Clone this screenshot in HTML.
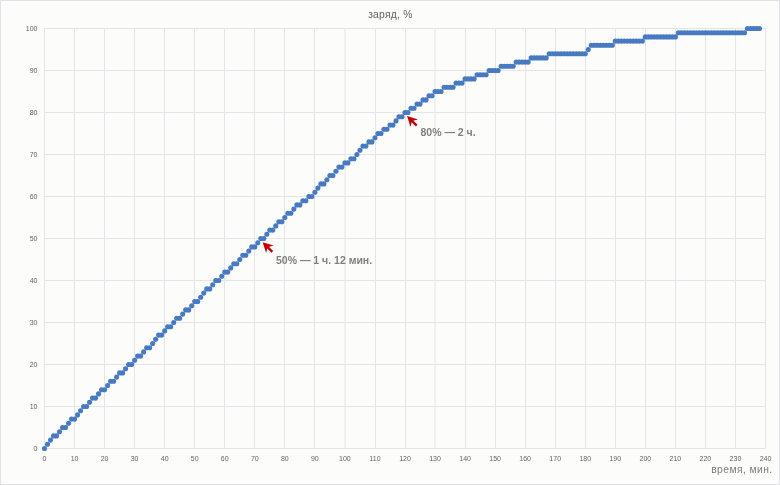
<!DOCTYPE html>
<html><head><meta charset="utf-8"><style>
html,body{margin:0;padding:0;background:#fcfdfb;}
body{width:780px;height:485px;overflow:hidden;position:relative;}
svg{position:absolute;left:0;top:0;will-change:transform;}
text{font-family:"Liberation Sans",sans-serif;}
</style></head><body>
<svg width="780" height="485" viewBox="0 0 780 485">
<rect x="0.5" y="0.5" width="779" height="484" fill="#fcfdfb" stroke="#e2e1e5" stroke-width="1"/>
<path d="M44.50 28.5V448.5M74.50 28.5V448.5M104.50 28.5V448.5M134.50 28.5V448.5M164.50 28.5V448.5M194.50 28.5V448.5M224.50 28.5V448.5M254.50 28.5V448.5M284.50 28.5V448.5M314.50 28.5V448.5M345.00 28.5V448.5M375.50 28.5V448.5M405.50 28.5V448.5M435.00 28.5V448.5M465.50 28.5V448.5M495.50 28.5V448.5M525.50 28.5V448.5M555.50 28.5V448.5M585.50 28.5V448.5M615.50 28.5V448.5M645.50 28.5V448.5M675.50 28.5V448.5M705.50 28.5V448.5M735.50 28.5V448.5M765.50 28.5V448.5M44.5 448.50H765.5M44.5 406.50H765.5M44.5 364.50H765.5M44.5 322.50H765.5M44.5 280.50H765.5M44.5 238.50H765.5M44.5 196.50H765.5M44.5 154.50H765.5M44.5 112.50H765.5M44.5 70.50H765.5M44.5 28.50H765.5" stroke="#e6e4e8" stroke-width="1" fill="none"/>
<g fill="#477ac1"><circle cx="44.50" cy="448.50" r="2.55"/><circle cx="47.50" cy="444.30" r="2.55"/><circle cx="50.51" cy="440.10" r="2.55"/><circle cx="53.51" cy="435.90" r="2.55"/><circle cx="56.52" cy="435.90" r="2.55"/><circle cx="59.52" cy="431.70" r="2.55"/><circle cx="62.53" cy="427.50" r="2.55"/><circle cx="65.53" cy="427.50" r="2.55"/><circle cx="68.53" cy="423.30" r="2.55"/><circle cx="71.54" cy="419.10" r="2.55"/><circle cx="74.54" cy="419.10" r="2.55"/><circle cx="77.55" cy="414.90" r="2.55"/><circle cx="80.55" cy="410.70" r="2.55"/><circle cx="83.55" cy="406.50" r="2.55"/><circle cx="86.56" cy="406.50" r="2.55"/><circle cx="89.56" cy="402.30" r="2.55"/><circle cx="92.57" cy="398.10" r="2.55"/><circle cx="95.57" cy="398.10" r="2.55"/><circle cx="98.58" cy="393.90" r="2.55"/><circle cx="101.58" cy="389.70" r="2.55"/><circle cx="104.58" cy="389.70" r="2.55"/><circle cx="107.59" cy="385.50" r="2.55"/><circle cx="110.59" cy="381.30" r="2.55"/><circle cx="113.60" cy="381.30" r="2.55"/><circle cx="116.60" cy="377.10" r="2.55"/><circle cx="119.60" cy="372.90" r="2.55"/><circle cx="122.61" cy="372.90" r="2.55"/><circle cx="125.61" cy="368.70" r="2.55"/><circle cx="128.62" cy="364.50" r="2.55"/><circle cx="131.62" cy="364.50" r="2.55"/><circle cx="134.62" cy="360.30" r="2.55"/><circle cx="137.63" cy="356.10" r="2.55"/><circle cx="140.63" cy="356.10" r="2.55"/><circle cx="143.64" cy="351.90" r="2.55"/><circle cx="146.64" cy="347.70" r="2.55"/><circle cx="149.65" cy="347.70" r="2.55"/><circle cx="152.65" cy="343.50" r="2.55"/><circle cx="155.65" cy="339.30" r="2.55"/><circle cx="158.66" cy="335.10" r="2.55"/><circle cx="161.66" cy="335.10" r="2.55"/><circle cx="164.67" cy="330.90" r="2.55"/><circle cx="167.67" cy="326.70" r="2.55"/><circle cx="170.68" cy="326.70" r="2.55"/><circle cx="173.68" cy="322.50" r="2.55"/><circle cx="176.68" cy="318.30" r="2.55"/><circle cx="179.69" cy="318.30" r="2.55"/><circle cx="182.69" cy="314.10" r="2.55"/><circle cx="185.70" cy="309.90" r="2.55"/><circle cx="188.70" cy="309.90" r="2.55"/><circle cx="191.70" cy="305.70" r="2.55"/><circle cx="194.71" cy="301.50" r="2.55"/><circle cx="197.71" cy="301.50" r="2.55"/><circle cx="200.72" cy="297.30" r="2.55"/><circle cx="203.72" cy="293.10" r="2.55"/><circle cx="206.73" cy="288.90" r="2.55"/><circle cx="209.73" cy="288.90" r="2.55"/><circle cx="212.73" cy="284.70" r="2.55"/><circle cx="215.74" cy="280.50" r="2.55"/><circle cx="218.74" cy="280.50" r="2.55"/><circle cx="221.75" cy="276.30" r="2.55"/><circle cx="224.75" cy="272.10" r="2.55"/><circle cx="227.75" cy="272.10" r="2.55"/><circle cx="230.76" cy="267.90" r="2.55"/><circle cx="233.76" cy="263.70" r="2.55"/><circle cx="236.77" cy="263.70" r="2.55"/><circle cx="239.77" cy="259.50" r="2.55"/><circle cx="242.78" cy="255.30" r="2.55"/><circle cx="245.78" cy="255.30" r="2.55"/><circle cx="248.78" cy="251.10" r="2.55"/><circle cx="251.79" cy="246.90" r="2.55"/><circle cx="254.79" cy="246.90" r="2.55"/><circle cx="257.80" cy="242.70" r="2.55"/><circle cx="260.80" cy="238.50" r="2.55"/><circle cx="263.80" cy="238.50" r="2.55"/><circle cx="266.81" cy="234.30" r="2.55"/><circle cx="269.81" cy="230.10" r="2.55"/><circle cx="272.82" cy="230.10" r="2.55"/><circle cx="275.82" cy="225.90" r="2.55"/><circle cx="278.83" cy="221.70" r="2.55"/><circle cx="281.83" cy="221.70" r="2.55"/><circle cx="284.83" cy="217.50" r="2.55"/><circle cx="287.84" cy="213.30" r="2.55"/><circle cx="290.84" cy="213.30" r="2.55"/><circle cx="293.85" cy="209.10" r="2.55"/><circle cx="296.85" cy="204.90" r="2.55"/><circle cx="299.85" cy="204.90" r="2.55"/><circle cx="302.86" cy="200.70" r="2.55"/><circle cx="305.86" cy="200.70" r="2.55"/><circle cx="308.87" cy="196.50" r="2.55"/><circle cx="311.87" cy="196.50" r="2.55"/><circle cx="314.88" cy="192.30" r="2.55"/><circle cx="317.88" cy="188.10" r="2.55"/><circle cx="320.88" cy="183.90" r="2.55"/><circle cx="323.89" cy="183.90" r="2.55"/><circle cx="326.89" cy="179.70" r="2.55"/><circle cx="329.90" cy="175.50" r="2.55"/><circle cx="332.90" cy="175.50" r="2.55"/><circle cx="335.90" cy="171.30" r="2.55"/><circle cx="338.91" cy="167.10" r="2.55"/><circle cx="341.91" cy="167.10" r="2.55"/><circle cx="344.92" cy="162.90" r="2.55"/><circle cx="347.92" cy="162.90" r="2.55"/><circle cx="350.93" cy="158.70" r="2.55"/><circle cx="353.93" cy="158.70" r="2.55"/><circle cx="356.93" cy="154.50" r="2.55"/><circle cx="359.94" cy="150.30" r="2.55"/><circle cx="362.94" cy="146.10" r="2.55"/><circle cx="365.95" cy="146.10" r="2.55"/><circle cx="368.95" cy="141.90" r="2.55"/><circle cx="371.95" cy="141.90" r="2.55"/><circle cx="374.96" cy="137.70" r="2.55"/><circle cx="377.96" cy="133.50" r="2.55"/><circle cx="380.97" cy="133.50" r="2.55"/><circle cx="383.97" cy="129.30" r="2.55"/><circle cx="386.98" cy="129.30" r="2.55"/><circle cx="389.98" cy="125.10" r="2.55"/><circle cx="392.98" cy="125.10" r="2.55"/><circle cx="395.99" cy="120.90" r="2.55"/><circle cx="398.99" cy="116.70" r="2.55"/><circle cx="402.00" cy="116.70" r="2.55"/><circle cx="405.00" cy="112.50" r="2.55"/><circle cx="408.00" cy="112.50" r="2.55"/><circle cx="411.01" cy="108.30" r="2.55"/><circle cx="414.01" cy="108.30" r="2.55"/><circle cx="417.02" cy="104.10" r="2.55"/><circle cx="420.02" cy="104.10" r="2.55"/><circle cx="423.03" cy="99.90" r="2.55"/><circle cx="426.03" cy="99.90" r="2.55"/><circle cx="429.03" cy="95.70" r="2.55"/><circle cx="432.04" cy="95.70" r="2.55"/><circle cx="435.04" cy="91.50" r="2.55"/><circle cx="438.05" cy="91.50" r="2.55"/><circle cx="441.05" cy="91.50" r="2.55"/><circle cx="444.05" cy="87.30" r="2.55"/><circle cx="447.06" cy="87.30" r="2.55"/><circle cx="450.06" cy="87.30" r="2.55"/><circle cx="453.07" cy="87.30" r="2.55"/><circle cx="456.07" cy="83.10" r="2.55"/><circle cx="459.08" cy="83.10" r="2.55"/><circle cx="462.08" cy="83.10" r="2.55"/><circle cx="465.08" cy="78.90" r="2.55"/><circle cx="468.09" cy="78.90" r="2.55"/><circle cx="471.09" cy="78.90" r="2.55"/><circle cx="474.10" cy="78.90" r="2.55"/><circle cx="477.10" cy="74.70" r="2.55"/><circle cx="480.10" cy="74.70" r="2.55"/><circle cx="483.11" cy="74.70" r="2.55"/><circle cx="486.11" cy="74.70" r="2.55"/><circle cx="489.12" cy="70.50" r="2.55"/><circle cx="492.12" cy="70.50" r="2.55"/><circle cx="495.13" cy="70.50" r="2.55"/><circle cx="498.13" cy="70.50" r="2.55"/><circle cx="501.13" cy="66.30" r="2.55"/><circle cx="504.14" cy="66.30" r="2.55"/><circle cx="507.14" cy="66.30" r="2.55"/><circle cx="510.15" cy="66.30" r="2.55"/><circle cx="513.15" cy="66.30" r="2.55"/><circle cx="516.15" cy="62.10" r="2.55"/><circle cx="519.16" cy="62.10" r="2.55"/><circle cx="522.16" cy="62.10" r="2.55"/><circle cx="525.17" cy="62.10" r="2.55"/><circle cx="528.17" cy="62.10" r="2.55"/><circle cx="531.17" cy="57.90" r="2.55"/><circle cx="534.18" cy="57.90" r="2.55"/><circle cx="537.18" cy="57.90" r="2.55"/><circle cx="540.19" cy="57.90" r="2.55"/><circle cx="543.19" cy="57.90" r="2.55"/><circle cx="546.20" cy="57.90" r="2.55"/><circle cx="549.20" cy="53.70" r="2.55"/><circle cx="552.20" cy="53.70" r="2.55"/><circle cx="555.21" cy="53.70" r="2.55"/><circle cx="558.21" cy="53.70" r="2.55"/><circle cx="561.22" cy="53.70" r="2.55"/><circle cx="564.22" cy="53.70" r="2.55"/><circle cx="567.23" cy="53.70" r="2.55"/><circle cx="570.23" cy="53.70" r="2.55"/><circle cx="573.23" cy="53.70" r="2.55"/><circle cx="576.24" cy="53.70" r="2.55"/><circle cx="579.24" cy="53.70" r="2.55"/><circle cx="582.25" cy="53.70" r="2.55"/><circle cx="585.25" cy="53.70" r="2.55"/><circle cx="588.25" cy="49.50" r="2.55"/><circle cx="591.26" cy="45.30" r="2.55"/><circle cx="594.26" cy="45.30" r="2.55"/><circle cx="597.27" cy="45.30" r="2.55"/><circle cx="600.27" cy="45.30" r="2.55"/><circle cx="603.28" cy="45.30" r="2.55"/><circle cx="606.28" cy="45.30" r="2.55"/><circle cx="609.28" cy="45.30" r="2.55"/><circle cx="612.29" cy="45.30" r="2.55"/><circle cx="615.29" cy="41.10" r="2.55"/><circle cx="618.30" cy="41.10" r="2.55"/><circle cx="621.30" cy="41.10" r="2.55"/><circle cx="624.30" cy="41.10" r="2.55"/><circle cx="627.31" cy="41.10" r="2.55"/><circle cx="630.31" cy="41.10" r="2.55"/><circle cx="633.32" cy="41.10" r="2.55"/><circle cx="636.32" cy="41.10" r="2.55"/><circle cx="639.33" cy="41.10" r="2.55"/><circle cx="642.33" cy="41.10" r="2.55"/><circle cx="645.33" cy="36.90" r="2.55"/><circle cx="648.34" cy="36.90" r="2.55"/><circle cx="651.34" cy="36.90" r="2.55"/><circle cx="654.35" cy="36.90" r="2.55"/><circle cx="657.35" cy="36.90" r="2.55"/><circle cx="660.35" cy="36.90" r="2.55"/><circle cx="663.36" cy="36.90" r="2.55"/><circle cx="666.36" cy="36.90" r="2.55"/><circle cx="669.37" cy="36.90" r="2.55"/><circle cx="672.37" cy="36.90" r="2.55"/><circle cx="675.38" cy="36.90" r="2.55"/><circle cx="678.38" cy="32.70" r="2.55"/><circle cx="681.38" cy="32.70" r="2.55"/><circle cx="684.39" cy="32.70" r="2.55"/><circle cx="687.39" cy="32.70" r="2.55"/><circle cx="690.40" cy="32.70" r="2.55"/><circle cx="693.40" cy="32.70" r="2.55"/><circle cx="696.40" cy="32.70" r="2.55"/><circle cx="699.41" cy="32.70" r="2.55"/><circle cx="702.41" cy="32.70" r="2.55"/><circle cx="705.42" cy="32.70" r="2.55"/><circle cx="708.42" cy="32.70" r="2.55"/><circle cx="711.43" cy="32.70" r="2.55"/><circle cx="714.43" cy="32.70" r="2.55"/><circle cx="717.43" cy="32.70" r="2.55"/><circle cx="720.44" cy="32.70" r="2.55"/><circle cx="723.44" cy="32.70" r="2.55"/><circle cx="726.45" cy="32.70" r="2.55"/><circle cx="729.45" cy="32.70" r="2.55"/><circle cx="732.45" cy="32.70" r="2.55"/><circle cx="735.46" cy="32.70" r="2.55"/><circle cx="738.46" cy="32.70" r="2.55"/><circle cx="741.47" cy="32.70" r="2.55"/><circle cx="744.47" cy="32.70" r="2.55"/><circle cx="747.48" cy="28.50" r="2.55"/><circle cx="750.48" cy="28.50" r="2.55"/><circle cx="753.48" cy="28.50" r="2.55"/><circle cx="756.49" cy="28.50" r="2.55"/><circle cx="759.49" cy="28.50" r="2.55"/></g>
<g fill="#c00000"><polygon points="262.70,242.20 266.09,253.09 267.65,247.15 273.59,245.59"/><polygon points="266.09,247.29 271.47,252.67 273.17,250.97 267.79,245.59"/><polygon points="407.10,116.00 410.49,126.89 412.05,120.95 417.99,119.39"/><polygon points="410.49,121.09 415.87,126.47 417.57,124.77 412.19,119.39"/></g>
<g font-size="7" fill="#636363" text-anchor="end"><text x="37.5" y="450.90">0</text><text x="37.5" y="408.90">10</text><text x="37.5" y="366.90">20</text><text x="37.5" y="324.90">30</text><text x="37.5" y="282.90">40</text><text x="37.5" y="240.90">50</text><text x="37.5" y="198.90">60</text><text x="37.5" y="156.90">70</text><text x="37.5" y="114.90">80</text><text x="37.5" y="72.90">90</text><text x="37.5" y="30.90">100</text></g>
<g font-size="7" fill="#636363" text-anchor="middle"><text x="44.50" y="460.8">0</text><text x="74.54" y="460.8">10</text><text x="104.58" y="460.8">20</text><text x="134.62" y="460.8">30</text><text x="164.67" y="460.8">40</text><text x="194.71" y="460.8">50</text><text x="224.75" y="460.8">60</text><text x="254.79" y="460.8">70</text><text x="284.83" y="460.8">80</text><text x="314.88" y="460.8">90</text><text x="344.92" y="460.8">100</text><text x="374.96" y="460.8">110</text><text x="405.00" y="460.8">120</text><text x="435.04" y="460.8">130</text><text x="465.08" y="460.8">140</text><text x="495.13" y="460.8">150</text><text x="525.17" y="460.8">160</text><text x="555.21" y="460.8">170</text><text x="585.25" y="460.8">180</text><text x="615.29" y="460.8">190</text><text x="645.33" y="460.8">200</text><text x="675.38" y="460.8">210</text><text x="705.42" y="460.8">220</text><text x="735.46" y="460.8">230</text><text x="765.50" y="460.8">240</text></g>
<text x="390.4" y="17.8" font-size="10.3" letter-spacing="0.25" fill="#5f5f5f" text-anchor="middle">заряд, %</text>
<text x="772.6" y="472.6" font-size="10.3" letter-spacing="0.43" fill="#7a7a7a" text-anchor="end">время, мин.</text>
<text x="276" y="263.6" font-size="10.5" font-weight="bold" fill="#7f7f7f">50% — 1 ч. 12 мин.</text>
<text x="420.5" y="136" font-size="10.5" font-weight="bold" fill="#7f7f7f">80% — 2 ч.</text>
</svg>
</body></html>
